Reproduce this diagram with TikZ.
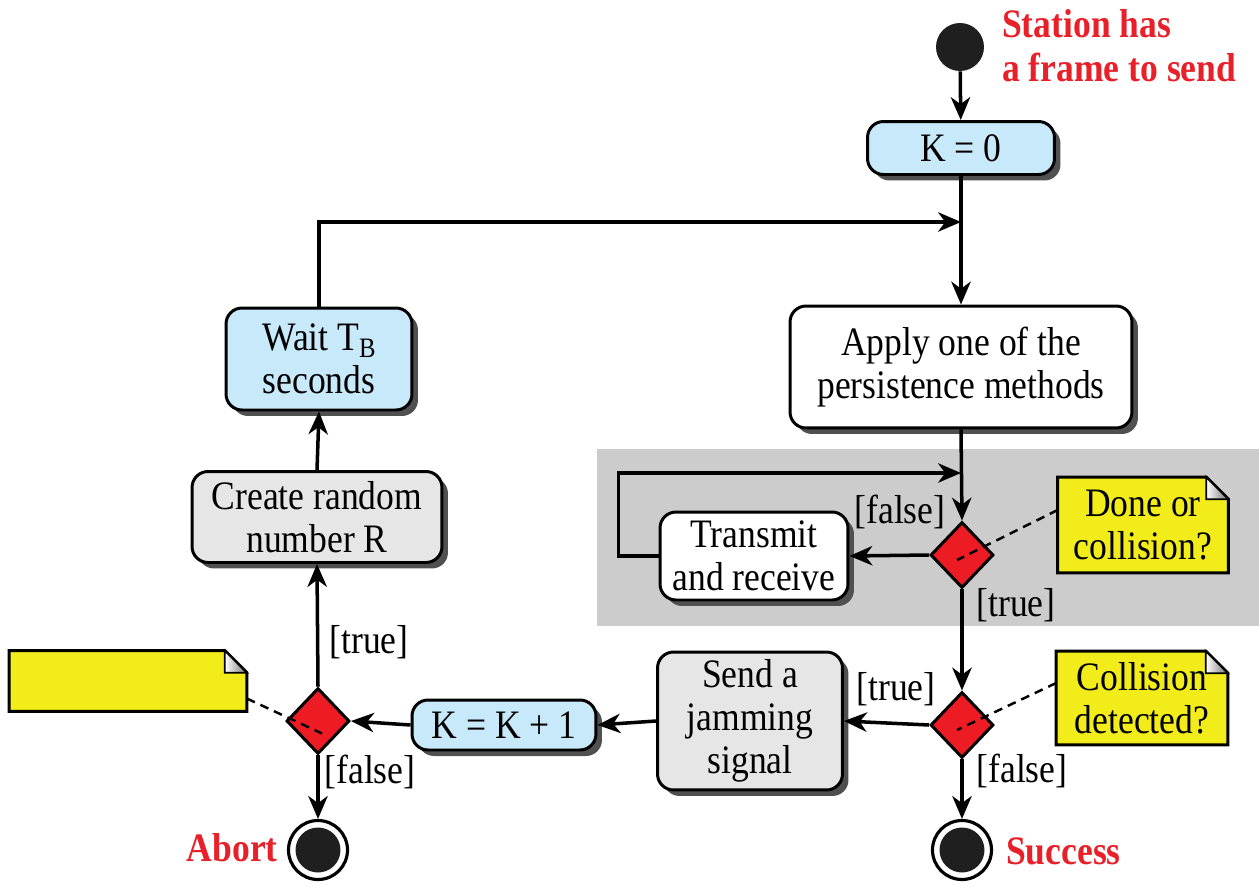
\documentclass[tikz,border=0pt]{standalone}
\usepackage{fontspec}
\setmainfont{Liberation Serif}[FakeStretch=0.88]
\usetikzlibrary{shapes.geometric,arrows.meta,shadows,backgrounds}
\definecolor{boxblue}{HTML}{C8E9FA}
\definecolor{boxgray}{HTML}{E6E6E7}
\definecolor{regiongray}{HTML}{CCCCCC}
\definecolor{noteyellow}{HTML}{F2EC1A}
\definecolor{dred}{HTML}{ED1C24}
\definecolor{lblred}{HTML}{E8202A}
\definecolor{shadowgray}{HTML}{505050}
\tikzset{
  txt/.style={font=\fontsize{23}{24.5}\selectfont},
  redlbl/.style={font=\fontsize{23}{25}\selectfont\bfseries, text=lblred},
  act/.style={txt, draw, line width=1.7pt, rounded corners=0.32cm, align=center, inner sep=0pt,
    drop shadow={shadow xshift=0.12cm, shadow yshift=-0.12cm, fill=shadowgray, opacity=1}},
  dia/.style={diamond, draw, fill=dred, line width=1.7pt, minimum width=1.26cm, minimum height=1.32cm, inner sep=0pt},
  startnode/.style={circle, fill=black!88, minimum size=0.96cm, inner sep=0pt},
  endnode/.style={circle, draw, line width=1.8pt, fill=white, minimum size=1.18cm, inner sep=0pt},
  notetxt/.style={txt, align=center, inner sep=0pt},
  arr/.style={line width=2pt, -{Stealth[length=13pt,width=11pt,inset=4pt]}},
  notelink/.style={line width=1.4pt, dash pattern=on 5pt off 3.5pt},
}
\newcommand\drawnote[1]{%
  \begin{scope}[on background layer]
    \draw[line width=1.7pt, fill=noteyellow, line join=miter]
      (#1.north west) -- ([xshift=-0.44cm]#1.north east) -- ([yshift=-0.44cm]#1.north east)
      -- (#1.south east) -- (#1.south west) -- cycle;
  \end{scope}
  \shadedraw[left color=white, right color=black!55, line width=1pt, line join=miter]
    ([xshift=-0.44cm]#1.north east) -- ([xshift=-0.44cm,yshift=-0.44cm]#1.north east)
    -- ([yshift=-0.44cm]#1.north east) -- cycle;
}
\begin{document}
\begin{tikzpicture}[x=0.02cm,y=-0.02cm]
\useasboundingbox (0,0) rectangle (1259,886);
\begin{scope}[on background layer]
  \fill[regiongray] (597,449) rectangle (1259,626);
\end{scope}

% nodes
\node[startnode] (start) at (960,47) {};
\node[redlbl, anchor=west, align=left] (startlbl) at (996,46) {Station has\\a frame to send};
\node[act, fill=boxblue, minimum width=3.74cm, minimum height=1.06cm] (k0) at (961,148) {K = 0};
\coordinate (join) at (961,222);
\node[act, fill=white, minimum width=6.84cm, minimum height=2.44cm] (apply) at (961,367) {Apply one of the\\persistence methods};
\coordinate (loopj) at (961,473);
\node[dia] (d1) at (962,555) {};
\node[act, fill=white, minimum width=3.76cm, minimum height=1.76cm] (tx) at (754,556) {Transmit\\and receive};
\node[notetxt, minimum width=3.4cm, minimum height=1.9cm] (n1) at (1143,525) {Done or\\collision?};
\node[dia] (d2) at (962,725) {};
\node[notetxt, minimum width=3.42cm, minimum height=1.86cm] (n2) at (1142,698) {Collision\\detected?};
\node[act, fill=boxgray, minimum width=3.7cm, minimum height=2.76cm] (send) at (750,721) {Send a\\jamming\\signal};
\node[endnode] (succ) at (962,850) {};
\fill[black!88] (succ.center) circle (0.45cm);
\node[redlbl, anchor=west] (succlbl) at (1000,851) {Success};
\node[act, fill=boxblue, minimum width=3.68cm, minimum height=1.0cm] (kk) at (504,725) {K = K + 1};
\node[dia] (d3) at (318,721) {};
\node[notetxt, minimum width=4.74cm, minimum height=1.2cm] (n3) at (128,681) {};
\node[endnode] (abort) at (318,850) {};
\fill[black!88] (abort.center) circle (0.45cm);
\node[redlbl, anchor=east] (abortlbl) at (284,848) {Abort};
\node[act, fill=boxgray, minimum width=5.0cm, minimum height=1.82cm] (create) at (317,517) {Create random\\number R};
\node[act, fill=boxblue, minimum width=3.72cm, minimum height=2.04cm] (wait) at (319,359)
  {Wait T\raisebox{-0.35ex}{\fontsize{16}{16}\selectfont B}\\seconds};

\drawnote{n1}
\drawnote{n2}
\drawnote{n3}

% guard labels
\node[txt] (l1) at (900,512) {[false]};
\node[txt] (l2) at (1016,605) {[true]};
\node[txt] (l3) at (896,689) {[true]};
\node[txt] (l4) at (1022,771) {[false]};
\node[txt] (l5) at (369,642) {[true]};
\node[txt] (l6) at (370,772) {[false]};

% connectors
\draw[arr] (start) -- (k0);
\draw[arr] (k0.south) -- (apply.north);
\draw[arr] (wait.north) |- (join);
\draw[arr] (apply.south) -- (d1.north);
\draw[arr] (d1.west) -- (tx.east);
\draw[arr] (tx.west) -- ++(-40,0) |- (loopj);
\draw[arr] (d1.south) -- (d2.north);
\draw[arr] (d2.west) -- (send.east);
\draw[arr] (d2.south) -- (succ.north);
\draw[arr] (send.west) -- (kk.east);
\draw[arr] (kk.west) -- (d3.east);
\draw[arr] (d3.south) -- (abort.north);
\draw[arr] (d3.north) -- (create.south);
\draw[arr] (create.north) -- (wait.south);

% note links
\draw[notelink] ([yshift=0.3cm]n1.west) -- ([xshift=-0.1cm,yshift=-0.1cm]d1.center);
\draw[notelink] ([yshift=0.3cm]n2.west) -- ([xshift=-0.1cm,yshift=-0.1cm]d2.center);
\draw[notelink] ([yshift=-0.35cm]n3.east) -- ([xshift=0.08cm,yshift=-0.25cm]d3.center);
\end{tikzpicture}
\end{document}
